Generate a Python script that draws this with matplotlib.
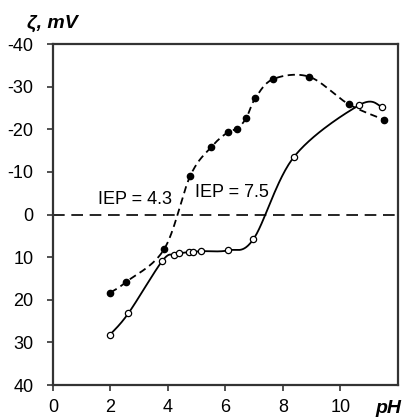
import numpy as np
import matplotlib.pyplot as plt

# -----------------------------
# data
# -----------------------------
ph_filled = [2.0, 2.55, 3.87, 4.77, 5.5, 6.1, 6.4, 6.72, 7.04, 7.67, 8.92, 10.28, 11.53]
zeta_filled = [18.3, 15.8, 8.1, -9.0, -15.8, -19.4, -20.1, -22.6, -27.3, -31.8, -32.3, -25.9, -22.2]

ph_open = [1.97, 2.62, 3.8, 4.2, 4.4, 4.74, 4.87, 5.16, 6.1, 6.97, 8.38, 10.66, 11.43]
zeta_open = [28.3, 23.2, 10.9, 9.4, 9.1, 8.8, 8.8, 8.6, 8.4, 5.8, -13.5, -25.7, -25.3]

iep_labels = ["IEP = 4.3", "IEP = 7.5"]
x_ticks = [0, 2, 4, 6, 8, 10]
y_ticks = [-40, -30, -20, -10, 0, 10, 20, 30, 40]


def smooth(xs, ys, n=30):
    # Excel-like smoothed line (Catmull-Rom through the points)
    p = np.column_stack([xs, ys]).astype(float)
    p = np.vstack([p[0], p, p[-1]])
    out = []
    for i in range(1, len(p) - 2):
        p0, p1, p2, p3 = p[i - 1], p[i], p[i + 1], p[i + 2]
        t = np.linspace(0, 1, n)[:, None]
        pts = 0.5 * ((2 * p1) + (-p0 + p2) * t
                     + (2 * p0 - 5 * p1 + 4 * p2 - p3) * t ** 2
                     + (-p0 + 3 * p1 - 3 * p2 + p3) * t ** 3)
        out.append(pts)
    out = np.vstack(out)
    return out[:, 0], out[:, 1]


plt.rcParams["font.family"] = ["Liberation Sans", "DejaVu Sans"]

fig = plt.figure(figsize=(4.06, 4.18), dpi=100)
ax = fig.add_axes([0.1305, 0.0789, 0.8497, 0.8158])

# zero line
ax.axhline(0, color="black", linestyle=(0, (7, 4)), linewidth=1.2, zorder=1)

# filled series, dashed
sx, sy = smooth(ph_filled, zeta_filled)
ax.plot(sx, sy, color="black", linestyle=(0, (4, 2.5)), linewidth=1.3, zorder=2)
ax.plot(ph_filled, zeta_filled, "o", color="black", markersize=4.5, zorder=3)

# open series, solid
sx, sy = smooth(ph_open, zeta_open)
ax.plot(sx, sy, color="black", linewidth=1.3, zorder=2)
ax.plot(ph_open, zeta_open, "o", markerfacecolor="white", markeredgecolor="black",
        markersize=4.5, markeredgewidth=0.9, zorder=3)

ax.text(1.55, -2.4, iep_labels[0], fontsize=13, ha="left", va="baseline")
ax.text(4.95, -4.0, iep_labels[1], fontsize=13, ha="left", va="baseline")

ax.set_xlim(0, 12)
ax.set_ylim(40, -40)
ax.set_xticks(x_ticks)
ax.set_yticks(y_ticks)
ax.set_yticklabels([str(v) for v in y_ticks])
ax.tick_params(direction="out", length=4, width=1.2, labelsize=13, colors="#333333",
               labelcolor="black")
ax.tick_params(axis="y", pad=10)
ax.tick_params(axis="x", pad=6)

for s in ax.spines.values():
    s.set_linewidth(1.6)
    s.set_color("#333333")

fig.text(0.066, 0.933, "ζ, mV", fontsize=14, fontweight="bold", fontstyle="italic",
         ha="left", va="baseline")
fig.text(0.988, 0.013, "pH", fontsize=14, fontweight="bold", fontstyle="italic",
         ha="right", va="baseline")

plt.savefig("out.png", dpi=100)
plt.close()
